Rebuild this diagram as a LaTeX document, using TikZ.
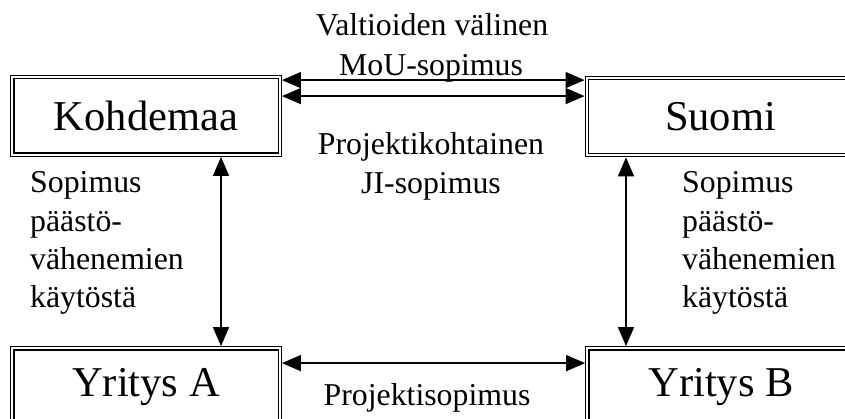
\documentclass[tikz,border=0pt]{standalone}
\usepackage{fontspec}
\setmainfont{Liberation Serif}
\usetikzlibrary{arrows.meta}
\begin{document}
\begin{tikzpicture}[x=1pt,y=-1pt,
  box/.style={draw=black, line width=1.2pt, double, double distance=2pt,
    minimum width=267.4pt, minimum height=77.4pt, inner sep=0pt, outer sep=2.2pt,
    font=\fontsize{42.5}{48}\selectfont},
  lbl/.style={font=\fontsize{31.8}{38.5}\selectfont, inner sep=0pt},
  tip/.style={Triangle[length=19pt,width=16pt]},
  conn/.style={line width=1.5pt, {Triangle[length=19pt,width=16pt]}-{Triangle[length=19pt,width=16pt]}}
]
\useasboundingbox (0,0) rectangle (845,419);
\begin{scope}
\clip (0,0) rectangle (845,419);
\node[box] (k) at (146,116) {Kohdemaa};
\node[box] (s) at (720.5,116.5) {Suomi};
\node[box] (a) at (146,387) {Yritys A};
\node[box] (b) at (721,387) {Yritys B};
\end{scope}
% top connectors
\draw[conn] ([yshift=-5pt]k.north east) -- ([yshift=-5pt]k.north east -| s.west);
\draw[conn] ([yshift=-21pt]k.north east) -- ([yshift=-21pt]k.north east -| s.west);
% vertical connectors
\draw[conn] (k.south -| 221,0) -- (a.north -| 221,0);
\draw[conn] (s.south -| 626,0) -- (b.north -| 626,0);
% bottom connector
\draw[conn] ([yshift=-17pt]a.north east) -- ([yshift=-17pt]a.north east -| b.west);
% labels
\node[lbl, anchor=base] (l1) at (432,36) {Valtioiden välinen};
\node[lbl, anchor=base] (l2) at (431,76) {MoU-sopimus};
\node[lbl, anchor=base] (l3) at (431,155) {Projektikohtainen};
\node[lbl, anchor=base] (l4) at (431,194) {JI-sopimus};
\node[lbl, anchor=base] (l5) at (427,405) {Projektisopimus};
\node[lbl, anchor=base west] (m1) at (30,193) {Sopimus};
\node[lbl, anchor=base west] (m2) at (30,232) {päästö-};
\node[lbl, anchor=base west] (m3) at (30,270) {vähenemien};
\node[lbl, anchor=base west] (m4) at (30,307) {käytöstä};
\node[lbl, anchor=base west] (n1) at (682,193) {Sopimus};
\node[lbl, anchor=base west] (n2) at (682,232) {päästö-};
\node[lbl, anchor=base west] (n3) at (682,270) {vähenemien};
\node[lbl, anchor=base west] (n4) at (682,307) {käytöstä};
\end{tikzpicture}
\end{document}
